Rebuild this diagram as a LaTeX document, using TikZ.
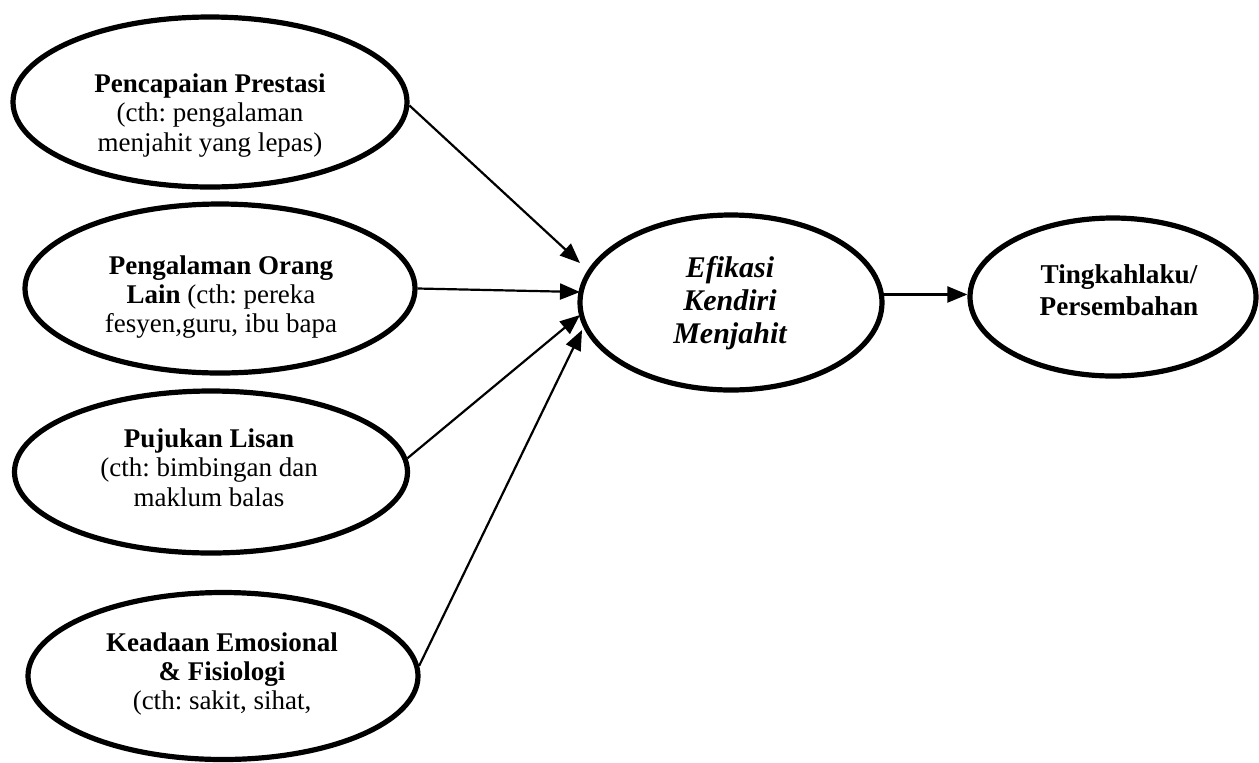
\documentclass[tikz,border=0pt]{standalone}
\usepackage{fontspec}
\setmainfont{Liberation Serif}
\usetikzlibrary{shapes.geometric,arrows.meta}
\frenchspacing
\tikzset{
  oval/.style={draw=black,line width=2.6pt,ellipse,inner sep=0pt},
  lbl/.style={inner sep=0pt,align=center,font=\fontsize{13.5}{14.7}\selectfont},
  conn/.style={line width=1.1pt,-{Triangle[length=10pt,width=8pt]}}
}
\begin{document}
\begin{tikzpicture}[x=0.5pt,y=-0.5pt]
\useasboundingbox (0,0) rectangle (1259,762);
% ellipses
\node[oval,minimum width=197pt,minimum height=85pt] (e1) at (210,102) {};
\node[oval,minimum width=195pt,minimum height=84.5pt] (e2) at (220,288.5) {};
\node[oval,minimum width=196.5pt,minimum height=81pt] (e3) at (211,472) {};
\node[oval,minimum width=195pt,minimum height=83.5pt] (e4) at (223,676) {};
\node[oval,minimum width=151pt,minimum height=87.5pt] (ef) at (731,302.5) {};
\node[oval,minimum width=143pt,minimum height=79pt] (tk) at (1113,297) {};
% texts
\node[lbl] (e1t) at (210,115.5) {\textbf{Pencapaian Prestasi}\\(cth: pengalaman\\menjahit yang lepas)};
\node[lbl] (e2t) at (221,297) {\textbf{Pengalaman Orang}\\\textbf{Lain} (cth: pereka\\fesyen,guru, ibu bapa};
\node[lbl] (e3t) at (209,467.5) {\textbf{Pujukan Lisan}\\(cth: bimbingan dan\\maklum balas};
\node[lbl] (e4t) at (222,674) {\textbf{Keadaan Emosional}\\\textbf{\& Fisiologi}\\(cth: sakit, sihat,};
\node[lbl,font=\fontsize{15}{16.5}\selectfont\bfseries\itshape] (eft) at (730,303) {Efikasi\\Kendiri\\Menjahit};
\node[lbl,font=\fontsize{13.6}{16}\selectfont\bfseries] (tkt) at (1119,290) {Tingkahlaku/\\Persembahan};
% arrow tips near the central ellipse
\coordinate (t1) at (580,263);
\coordinate (t2) at (580,292);
\coordinate (t3) at (580,315);
\coordinate (t4) at (582,330);
% connectors
\draw[conn] (e1.-1.5) -- (t1);
\draw[conn] (e2.east) -- (t2);
\draw[conn] (e3.4) -- (t3);
\draw[conn] (e4.3) -- (t4);
\draw[conn] (ef.3) -- (ef.3 -| tk.west);
\end{tikzpicture}
\end{document}
